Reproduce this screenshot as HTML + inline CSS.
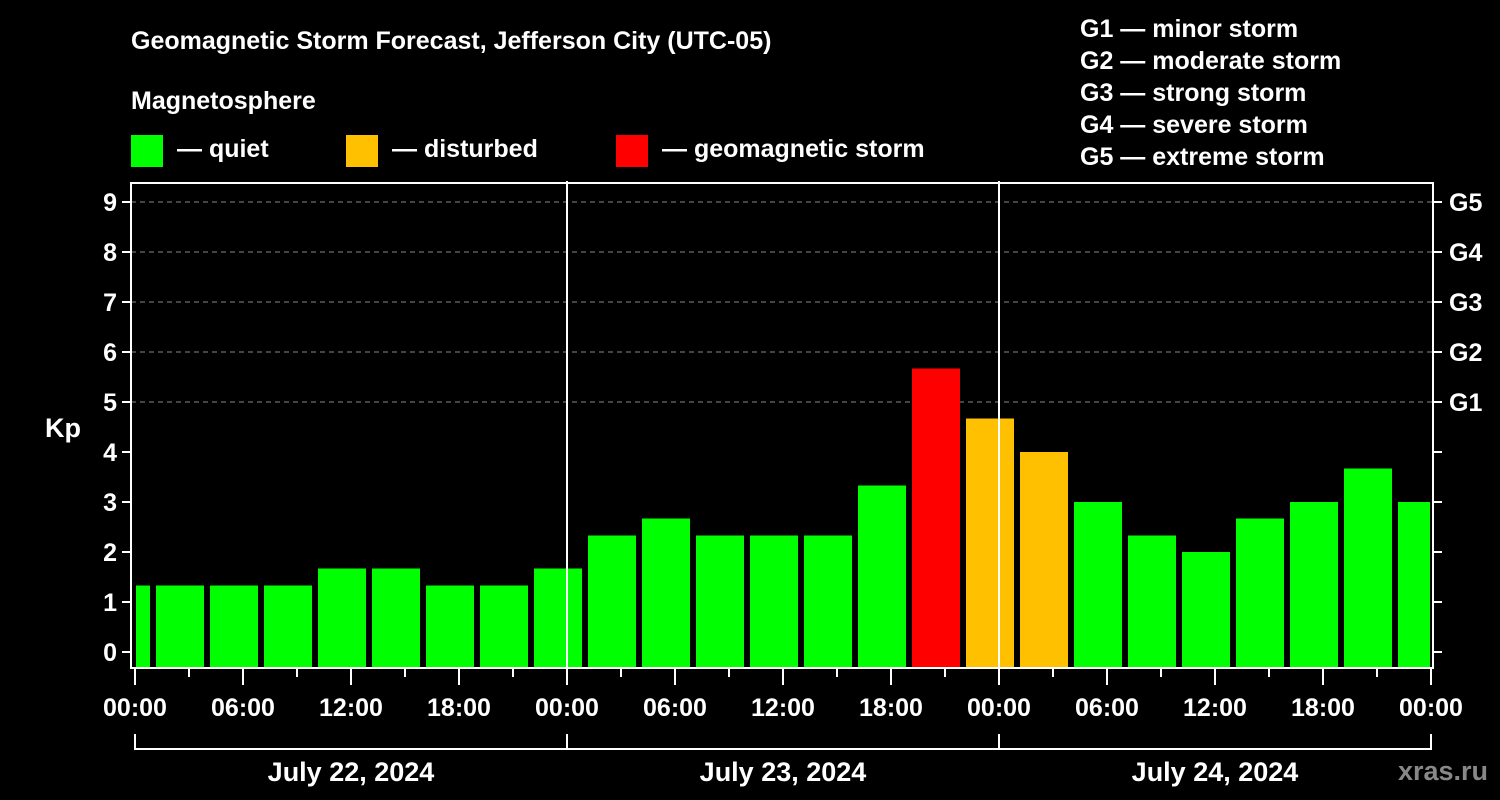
<!DOCTYPE html>
<html><head><meta charset="utf-8"><style>
html,body{margin:0;background:#000;}
svg{display:block;font-family:"Liberation Sans",Arial,sans-serif;font-weight:bold;}
</style></head><body>
<svg id="chart" width="1500" height="800" viewBox="0 0 1500 800">
<rect width="1500" height="800" fill="#000"/>
<text x="131" y="49" fill="#fff" font-size="25">Geomagnetic Storm Forecast, Jefferson City (UTC-05)</text>
<text x="131" y="109" fill="#fff" font-size="25">Magnetosphere</text>
<g><rect x="131" y="135" width="32" height="32" fill="#00ff00"/><text x="177" y="157" fill="#fff" font-size="25">— quiet</text></g>
<g><rect x="346" y="135" width="32" height="32" fill="#ffc000"/><text x="392" y="157" fill="#fff" font-size="25">— disturbed</text></g>
<g><rect x="616" y="135" width="32" height="32" fill="#ff0000"/><text x="662" y="157" fill="#fff" font-size="25">— geomagnetic storm</text></g>
<g fill="#fff" font-size="25">
<text x="1080" y="37">G1 — minor storm</text>
<text x="1080" y="69">G2 — moderate storm</text>
<text x="1080" y="101">G3 — strong storm</text>
<text x="1080" y="133">G4 — severe storm</text>
<text x="1080" y="165">G5 — extreme storm</text>
</g>
<text x="63" y="437" fill="#fff" font-size="27" text-anchor="middle">Kp</text>
<g id="grid"></g>
<g id="bars"></g>
<g id="axes"></g>
<text x="1488" y="780" fill="#888" font-size="27" text-anchor="end">xras.ru</text>
</svg>
<script>
const kpValues = [1.33,1.33,1.33,1.33,1.67,1.67,1.33,1.33,1.67,2.33,2.67,2.33,2.33,2.33,3.33,5.67,4.67,4.0,3.0,2.33,2.0,2.67,3.0,3.67,3.0];
const barHours = [-0.5,2.5,5.5,8.5,11.5,14.5,17.5,20.5,23.5,26.5,29.5,32.5,35.5,38.5,41.5,44.5,47.5,50.5,53.5,56.5,59.5,62.5,65.5,68.5,71.5];
const tickLabels = ["00:00","06:00","12:00","18:00","00:00","06:00","12:00","18:00","00:00","06:00","12:00","18:00","00:00"];
const dayLabels = ["July 22, 2024","July 23, 2024","July 24, 2024"];
const gLabels = ["G1","G2","G3","G4","G5"];

const NS="http://www.w3.org/2000/svg";
const X0=135, PX_H=18, L=131, R=1433, T=183, B=668;
const xs = h => X0 + h*PX_H;
const ys = k => 652 - k*50;
function mk(tag, attrs, parent){const e=document.createElementNS(NS,tag);for(const k in attrs)e.setAttribute(k,attrs[k]);parent.appendChild(e);return e;}
const grid=document.getElementById('grid'), bars=document.getElementById('bars'), axes=document.getElementById('axes');

for(let k=5;k<=9;k++){
  const ln=mk('line',{x1:L,x2:R,y1:ys(k),y2:ys(k),stroke:'#888','stroke-dasharray':'5,4','stroke-width':1},grid);
  
  
}
kpValues.forEach((v,i)=>{
  const c=xs(barHours[i]);
  let x1=Math.max(c-24,L+5), x2=Math.min(c+24,R-3);
  const col = v>=5?'#ff0000':(v>=4?'#ffc000':'#00ff00');
  const r=mk('rect',{x:x1,y:ys(v),width:x2-x1,height:B-ys(v),fill:col},bars);
  
  
});
const frame=mk('rect',{x:L,y:T,width:R-L,height:B-T,fill:'none',stroke:'#fff','stroke-width':2},axes);


[24,48].forEach(h=>{
  const d=mk('line',{x1:xs(h),x2:xs(h),y1:T-2,y2:B,stroke:'#fff','stroke-width':2},axes);
  
  
});
for(let k=0;k<=9;k++){
  mk('line',{x1:L-9,x2:L,y1:ys(k),y2:ys(k),stroke:'#fff','stroke-width':2},axes);
  mk('line',{x1:R,x2:R+9,y1:ys(k),y2:ys(k),stroke:'#fff','stroke-width':2},axes);
  const t=mk('text',{x:L-14,y:ys(k)+9,fill:'#fff','font-size':25,'text-anchor':'end'},axes);
  t.textContent=k;
  
  
  if(k>=5){
    const g=mk('text',{x:R+16,y:ys(k)+9,fill:'#fff','font-size':25},axes);
    g.textContent=gLabels[k-5];
    
    
  }
}
for(let h=0;h<=72;h+=3){
  const major=h%6===0;
  mk('line',{x1:xs(h),x2:xs(h),y1:B,y2:major?685:677,stroke:'#fff','stroke-width':2},axes);
}
tickLabels.forEach((s,i)=>{
  const t=mk('text',{x:xs(i*6),y:716,fill:'#fff','font-size':25,'text-anchor':'middle'},axes);
  t.textContent=s;
  
  
});
mk('path',{d:`M${xs(0)},734 V749 H${xs(72)} V734 M${xs(24)},734 V749 M${xs(48)},734 V749`,fill:'none',stroke:'#fff','stroke-width':2},axes);
dayLabels.forEach((s,i)=>{
  const t=mk('text',{x:xs(i*24+12),y:781,fill:'#fff','font-size':27,'text-anchor':'middle'},axes);
  t.textContent=s;
  
  
});
</script>
</body></html>
